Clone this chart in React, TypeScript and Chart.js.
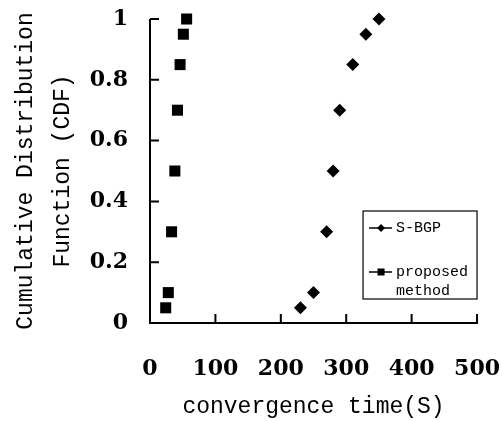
import React, { useEffect, useRef } from "react";
import { Chart, registerables } from "chart.js";

Chart.register(...registerables);

const cdfValues = [0.05, 0.1, 0.3, 0.5, 0.7, 0.85, 0.95, 1.0];
const sbgpTimes = [230, 250, 270, 280, 290, 310, 330, 350];
const proposedTimes = [24, 28, 33, 38, 42, 46, 51, 56];
const seriesLabels = ["S-BGP", "proposed method"];
const xTitle = "convergence time(S)";
const yTitle = ["Cumulative Distribution", "Function (CDF)"];

const TITLE_FONT = "'Liberation Mono', 'DejaVu Sans Mono', monospace";
const TICK_FONT = "'DejaVu Serif', 'Liberation Serif', serif";

const fmt = (v: any) => String(Number(Number(v).toFixed(2)));

const axisPlugin = {
  id: "inwardAxes",
  beforeDatasetsDraw(chart: any) {
    const { ctx, chartArea, scales } = chart;
    const { left, right, top, bottom } = chartArea;
    ctx.save();
    ctx.strokeStyle = "#000";
    ctx.lineWidth = 2;
    ctx.lineCap = "butt";
    ctx.beginPath();
    ctx.moveTo(left, top);
    ctx.lineTo(left, bottom);
    ctx.lineTo(right + 1, bottom);
    ctx.stroke();
    ctx.beginPath();
    scales.y.ticks.forEach((t: any) => {
      const py = scales.y.getPixelForValue(t.value);
      ctx.moveTo(left, py);
      ctx.lineTo(left + 9, py);
    });
    scales.x.ticks.forEach((t: any) => {
      const px = scales.x.getPixelForValue(t.value);
      ctx.moveTo(px, bottom);
      ctx.lineTo(px, bottom - 9);
    });
    ctx.stroke();
    ctx.restore();
  },
};

const legendPlugin = {
  id: "boxLegend",
  afterDraw(chart: any) {
    const { ctx, chartArea } = chart;
    const bw = 114;
    const bh = 88;
    const bx = chartArea.right - bw;
    const by = chartArea.top + 192;
    ctx.save();
    ctx.fillStyle = "#fff";
    ctx.fillRect(bx, by, bw, bh);
    ctx.strokeStyle = "#000";
    ctx.lineWidth = 1.2;
    ctx.strokeRect(bx, by, bw, bh);

    const rows = [by + 17, by + 61];
    ctx.lineWidth = 1.5;
    rows.forEach((ry) => {
      ctx.beginPath();
      ctx.moveTo(bx + 6, ry);
      ctx.lineTo(bx + 29, ry);
      ctx.stroke();
    });
    ctx.fillStyle = "#000";
    const mx = bx + 18;
    ctx.beginPath();
    ctx.moveTo(mx, rows[0] - 4);
    ctx.lineTo(mx + 4, rows[0]);
    ctx.lineTo(mx, rows[0] + 4);
    ctx.lineTo(mx - 4, rows[0]);
    ctx.closePath();
    ctx.fill();
    ctx.fillRect(mx - 3.5, rows[1] - 3.5, 7, 7);

    ctx.font = `15px ${TITLE_FONT}`;
    ctx.textBaseline = "middle";
    ctx.textAlign = "left";
    ctx.fillText(seriesLabels[0], bx + 33, rows[0]);
    const words = seriesLabels[1].split(" ");
    ctx.fillText(words[0], bx + 33, rows[1]);
    ctx.fillText(words[1], bx + 33, rows[1] + 19);
    ctx.restore();
  },
};

export default function App() {
  const ref = useRef<HTMLCanvasElement | null>(null);

  useEffect(() => {
    if (!ref.current) return;
    const chart = new Chart(ref.current, {
      type: "scatter",
      data: {
        datasets: [
          {
            label: seriesLabels[0],
            data: sbgpTimes.map((x, i) => ({ x, y: cdfValues[i] })),
            pointStyle: "rectRot",
            pointRadius: 6.5,
            backgroundColor: "#000",
            borderColor: "#000",
            borderWidth: 0,
            showLine: false,
            clip: false,
          },
          {
            label: seriesLabels[1],
            data: proposedTimes.map((x, i) => ({ x, y: cdfValues[i] })),
            pointStyle: "rect",
            pointRadius: 7.8,
            backgroundColor: "#000",
            borderColor: "#000",
            borderWidth: 0,
            showLine: false,
            clip: false,
          },
        ],
      },
      options: {
        responsive: false,
        animation: false,
        events: [],
        layout: { padding: { top: 19, right: 24, bottom: 0, left: 0 } },
        plugins: {
          legend: { display: false },
          tooltip: { enabled: false },
        },
        scales: {
          x: {
            type: "linear",
            min: 0,
            max: 500,
            afterFit: (s: any) => {
              s.height = 98;
            },
            grid: {
              display: true,
              drawOnChartArea: false,
              drawTicks: true,
              tickLength: 31,
              color: "rgba(0,0,0,0)",
            },
            border: { display: false },
            ticks: {
              stepSize: 100,
              color: "#000",
              padding: 2,
              maxRotation: 0,
              callback: fmt,
              font: { family: TICK_FONT, size: 22, weight: "bold", lineHeight: 1.2 },
            },
            title: {
              display: true,
              text: xTitle,
              color: "#000",
              padding: { top: 0, bottom: 0 },
              font: { family: TITLE_FONT, size: 23, lineHeight: 1.2 },
            },
          },
          y: {
            type: "linear",
            min: 0,
            max: 1,
            afterFit: (s: any) => {
              s.width = 150;
            },
            grid: {
              display: true,
              drawOnChartArea: false,
              drawTicks: true,
              tickLength: 20,
              color: "rgba(0,0,0,0)",
            },
            border: { display: false },
            ticks: {
              stepSize: 0.2,
              color: "#000",
              padding: 2,
              callback: fmt,
              font: { family: TICK_FONT, size: 22, weight: "bold", lineHeight: 1.2 },
            },
            title: {
              display: true,
              text: yTitle,
              color: "#000",
              padding: { top: 7.6, bottom: 0 },
              font: { family: TITLE_FONT, size: 23, lineHeight: 1.6 },
            },
          },
        },
      },
      plugins: [axisPlugin, legendPlugin],
    });
    return () => chart.destroy();
  }, []);

  return (
    <div style={{ position: "fixed", left: 0, top: 0, width: 502, height: 421, background: "#fff" }}>
      <canvas ref={ref} width={502} height={421} style={{ display: "block" }} />
    </div>
  );
}
